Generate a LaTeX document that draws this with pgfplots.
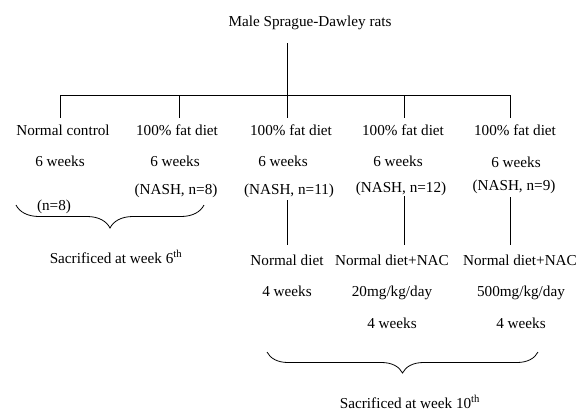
\documentclass[border=0pt]{standalone}
\usepackage{pgfplots}
\pgfplotsset{compat=1.18}
\usepackage{fontspec}
\setmainfont{Liberation Serif}
\usetikzlibrary{decorations.pathreplacing}
\pgfplotsset{treeline/.style={black, solid, line width=0.8pt, no markers}}
\begin{document}
\begin{tikzpicture}
\begin{axis}[
  width=582pt, height=410pt, scale only axis,
  xmin=0, xmax=582, ymin=0, ymax=410, y dir=reverse,
  hide axis, clip=false,
  nodes={font=\fontsize{15.2}{18}\selectfont, anchor=base, inner sep=0pt},
]
\path (axis cs:0,0) (axis cs:582,410);
% tree lines
\addplot[treeline] coordinates {(287,43) (287,95)};
\addplot[treeline] coordinates {(60,95) (510,95)};
\addplot[treeline] coordinates {(60,95) (60,118)};
\addplot[treeline] coordinates {(179,95) (179,118)};
\addplot[treeline] coordinates {(287,95) (287,118)};
\addplot[treeline] coordinates {(404,95) (404,118)};
\addplot[treeline] coordinates {(510,95) (510,118)};
\addplot[treeline] coordinates {(287,200) (287,245)};
\addplot[treeline] coordinates {(404,196) (404,245)};
\addplot[treeline] coordinates {(510,197) (510,245)};
% braces
\draw[black, line width=0.8pt, decorate, decoration={brace, mirror, amplitude=23pt}] (axis cs:16,205) -- (axis cs:204,205);
\draw[black, line width=0.8pt, decorate, decoration={brace, mirror, amplitude=21pt}] (axis cs:267,352) -- (axis cs:538,352);
% texts
\node at (axis cs:310,26) {Male Sprague-Dawley rats};
\node at (axis cs:63,135) {Normal control};
\node at (axis cs:177,135) {100\% fat diet};
\node at (axis cs:291,135) {100\% fat diet};
\node at (axis cs:403,135) {100\% fat diet};
\node at (axis cs:515,135) {100\% fat diet};
\node at (axis cs:60,166) {6 weeks};
\node at (axis cs:175,166) {6 weeks};
\node at (axis cs:283,166) {6 weeks};
\node at (axis cs:398,166) {6 weeks};
\node at (axis cs:516,167) {6 weeks};
\node at (axis cs:176,194) {(NASH, n=8)};
\node at (axis cs:289,194) {(NASH, n=11)};
\node at (axis cs:401,192) {(NASH, n=12)};
\node at (axis cs:514,190) {(NASH, n=9)};
\node at (axis cs:54,210) {(n=8)};
\node at (axis cs:116,263) {Sacrificed at week 6\textsuperscript{th}};
\node at (axis cs:287,265) {Normal diet};
\node at (axis cs:392,265) {Normal diet+NAC};
\node at (axis cs:520,265) {Normal diet+NAC};
\node at (axis cs:287,296) {4 weeks};
\node at (axis cs:392,296) {20mg/kg/day};
\node at (axis cs:521,296) {500mg/kg/day};
\node at (axis cs:392,328) {4 weeks};
\node at (axis cs:521,328) {4 weeks};
\node at (axis cs:410,408) {Sacrificed at week 10\textsuperscript{th}};
\end{axis}
\end{tikzpicture}
\end{document}
